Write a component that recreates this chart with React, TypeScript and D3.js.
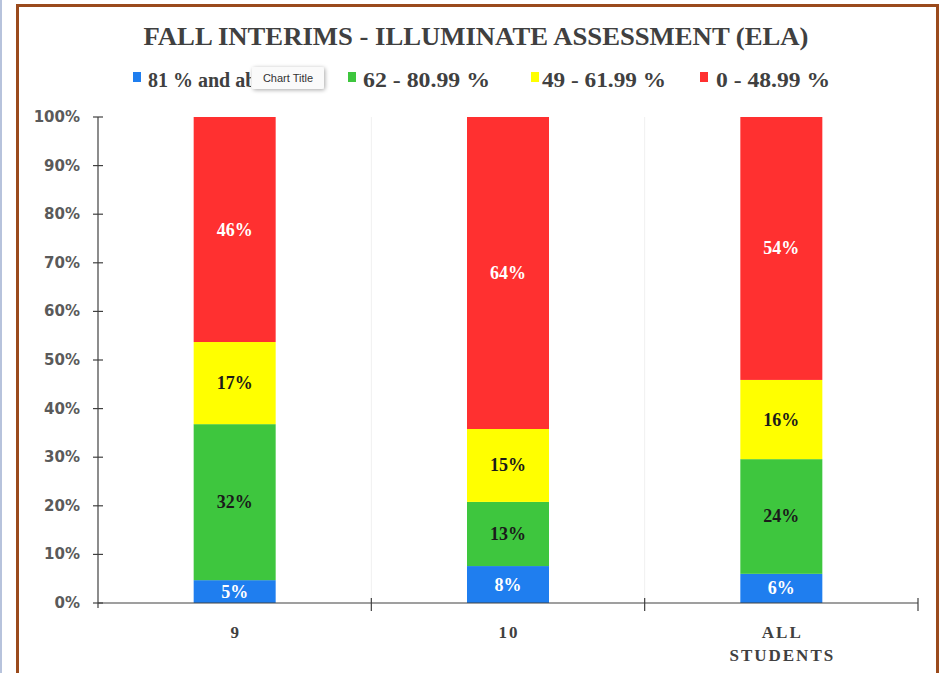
import React from "react";
import * as d3 from "d3";

const categories = ["9", "10", "ALL STUDENTS"];
const seriesNames = ["81 % and above", "62 - 80.99 %", "49 - 61.99 %", "0 - 48.99 %"];
const blueValues = [4.7, 7.6, 6.0];
const greenValues = [32.1, 13.2, 23.6];
const yellowValues = [16.9, 15.0, 16.3];
const redValues = [46.3, 64.2, 54.1];
const yTicks = [0, 10, 20, 30, 40, 50, 60, 70, 80, 90, 100];
const seriesColors = ["#1F7EEF", "#3EC63E", "#FFFF00", "#FF3030"];
const labelColors = ["#FFFFFF", "#1a1a1a", "#1a1a1a", "#FFFFFF"];

const W = 944;
const H = 673;
const M = { left: 98, right: 918, top: 117, bottom: 603 };

export default function App() {
  const keys = ["blue", "green", "yellow", "red"];
  const rows = categories.map((c, i) => ({
    cat: c,
    blue: blueValues[i],
    green: greenValues[i],
    yellow: yellowValues[i],
    red: redValues[i],
  }));
  const stack = d3.stack<any>().keys(keys)(rows);
  const x = d3.scaleBand().domain(categories).range([M.left, M.right]).paddingInner(0).paddingOuter(0);
  const y = d3.scaleLinear().domain([0, 100]).range([M.bottom, M.top]);
  const barW = x.bandwidth() * 0.3;
  const boundaries = [M.left, ...categories.map((c) => (x(c) as number) + x.bandwidth())];

  const serif = "'Liberation Serif', 'DejaVu Serif', serif";
  const sans = "'DejaVu Sans', Verdana, sans-serif";

  const legendPos = [
    { mx: 133, tx: 148, tl: 0 },
    { mx: 348, tx: 363, tl: 127 },
    { mx: 531, tx: 542, tl: 124 },
    { mx: 700, tx: 716, tl: 114 },
  ];

  return (
    <svg width={W} height={H} style={{ position: "absolute", left: 0, top: 0, background: "#fff" }}>
      <defs>
        <filter id="sh" x="-20%" y="-40%" width="140%" height="180%">
          <feGaussianBlur in="SourceAlpha" stdDeviation="2" />
          <feOffset dx="1" dy="1" />
          <feComponentTransfer>
            <feFuncA type="linear" slope="0.35" />
          </feComponentTransfer>
          <feMerge>
            <feMergeNode />
            <feMergeNode in="SourceGraphic" />
          </feMerge>
        </filter>
        <clipPath id="legclip">
          <rect x={120} y={60} width={131} height={35} />
        </clipPath>
      </defs>
      <line x1={1} y1={0} x2={1} y2={H} stroke="#b7c3dc" strokeWidth={2} />
      <rect x={17.5} y={5.5} width={920} height={H + 10} fill="#fff" stroke="#9a4a1c" strokeWidth={3} />

      {/* gridlines */}
      {boundaries.slice(1, 3).map((b, i) => (
        <line key={i} x1={b} x2={b} y1={M.top} y2={M.bottom} stroke="#f0f0f0" strokeWidth={1} />
      ))}

      {/* title */}
      <text x={476} y={45} textAnchor="middle" fontFamily={serif} fontWeight="bold" fontSize={25}
        fill="#404040" textLength={665} lengthAdjust="spacingAndGlyphs">
        FALL INTERIMS - ILLUMINATE ASSESSMENT (ELA)
      </text>

      {/* legend */}
      {seriesNames.map((n, i) => (
        <g key={n}>
          <rect x={legendPos[i].mx} y={72} width={8} height={10} fill={seriesColors[i]} />
          <text x={legendPos[i].tx} y={87} fontFamily={serif} fontWeight="bold" fontSize={20} fill="#404040"
            clipPath={i === 0 ? "url(#legclip)" : undefined}
            {...(legendPos[i].tl ? { textLength: legendPos[i].tl, lengthAdjust: "spacingAndGlyphs" } : {})}>
            {n}
          </text>
        </g>
      ))}

      {/* bars */}
      {stack.map((s, si) => (
        <g key={s.key}>
          {s.map((d, i) => {
            const cx = (x(categories[i]) as number) + x.bandwidth() / 2;
            const y0 = y(d[0]);
            const y1 = y(d[1]);
            const v = d[1] - d[0];
            return (
              <g key={i}>
                <rect x={cx - barW / 2} y={y1} width={barW} height={y0 - y1} fill={seriesColors[si]} />
                <text x={cx} y={(y0 + y1) / 2 + 6} textAnchor="middle" fontFamily={serif} fontWeight="bold"
                  fontSize={18} fill={labelColors[si]}>
                  {Math.round(v)}%
                </text>
              </g>
            );
          })}
        </g>
      ))}

      {/* y axis */}
      <line x1={M.left} x2={M.left} y1={M.top} y2={M.bottom + 5} stroke="#404040" strokeWidth={1.2} />
      {yTicks.map((t) => (
        <g key={t}>
          <line x1={M.left - 5} x2={M.left + 5} y1={y(t)} y2={y(t)} stroke="#404040" strokeWidth={1.2} />
          <text x={80} y={y(t) + 5} textAnchor="end" fontFamily={sans} fontWeight="bold" fontSize={15} fill="#5a5a5a">
            {t}%
          </text>
        </g>
      ))}

      {/* x axis */}
      <line x1={M.left} x2={M.right} y1={M.bottom} y2={M.bottom} stroke="#404040" strokeWidth={1.2} />
      {boundaries.slice(1).map((b, i) => (
        <line key={i} x1={b} x2={b} y1={M.bottom - 5} y2={M.bottom + 8} stroke="#404040" strokeWidth={1.2} />
      ))}
      {categories.map((c) => {
        const cx = (x(c) as number) + x.bandwidth() / 2;
        const parts = c === "ALL STUDENTS" ? ["ALL", "STUDENTS"] : [c];
        return (
          <text key={c} x={cx} textAnchor="middle" fontFamily={serif} fontWeight="bold" fontSize={17}
            fill="#404040" letterSpacing={2}>
            {parts.map((p, j) => (
              <tspan key={j} x={cx + 1} y={638 + j * 23}>{p}</tspan>
            ))}
          </text>
        );
      })}

      {/* tooltip */}
      <g filter="url(#sh)">
        <rect x={252} y={67} width={72} height={22} fill="#fafafa" rx={2} />
      </g>
      <text x={288} y={82} textAnchor="middle" fontFamily="'Liberation Sans', Arial, sans-serif" fontSize={11} fill="#333">
        Chart Title
      </text>
    </svg>
  );
}
